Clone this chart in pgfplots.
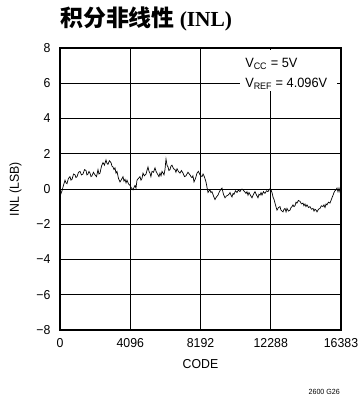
\documentclass[border=0pt]{standalone}
\usepackage{fontspec}
\setmainfont{Liberation Sans}[FakeStretch=0.95]
\newfontfamily\cjk{Noto Sans CJK SC}
\newfontfamily\titleserif{Liberation Serif}
\usepackage{pgfplots}
\pgfplotsset{compat=1.18}
\begin{document}
\begin{tikzpicture}[x=1bp,y=1bp]
\path[use as bounding box] (0,0) rectangle (363,398);
\node[anchor=base west,inner sep=0pt] at (60,372) {\fontsize{23}{25}\selectfont\cjk\bfseries 积分非线性\hspace{5bp}\fontsize{21.5}{24}\selectfont\titleserif\bfseries(INL)};
\begin{axis}[
  at={(60bp,68bp)}, anchor=south west,
  scale only axis, width=281bp, height=282bp,
  xmin=0, xmax=16383, ymin=-8, ymax=8,
  scaled x ticks=false,
  xtick={0,4096,8192,12288,16383},
  xticklabels={0,4096,8192,12288,16383},
  ytick={-8,-6,-4,-2,0,2,4,6,8},
  yticklabels={−8,−6,−4,−2,0,2,4,6,8},
  grid=major,
  major grid style={black, line width=0.8pt},
  axis line style={black, line width=1.4pt},
  tick style={draw=none},
  ticklabel style={font=\fontsize{13}{15}\selectfont},
  xticklabel style={yshift=-5bp},
  yticklabel style={xshift=-6bp},
  xlabel={CODE}, ylabel={INL (LSB)},
  label style={font=\fontsize{13}{15}\selectfont},
  xlabel style={yshift=-5bp},
  ylabel style={yshift=8bp},
  clip=false,
]
\addplot[black, line width=0.7pt] coordinates {
(0,-0.44)(58,-0.25)(117,-0.1)(200,0.2)(292,0.5)(350,0.35)(408,0.3)(490,0.6)(583,0.7)(640,0.5)(700,0.55)(790,0.85)(875,0.8)(930,0.65)(991,0.7)(1080,0.95)(1166,1.0)(1250,0.8)(1341,0.85)(1430,1.1)(1516,1.05)(1570,0.8)(1632,0.85)(1690,1.0)(1749,0.9)(1810,0.7)(1866,0.75)(1950,0.95)(2041,0.8)(2130,0.7)(2215,1.1)(2270,0.85)(2332,0.9)(2420,1.3)(2507,1.5)(2590,1.35)(2682,1.65)(2740,1.45)(2798,1.4)(2880,1.6)(2973,1.5)(3030,1.3)(3090,1.25)(3150,1.1)(3207,1.2)(3265,0.9)(3323,1.0)(3410,0.6)(3498,0.4)(3590,0.55)(3673,0.7)(3730,0.45)(3790,0.55)(3850,0.35)(3906,0.5)(3990,0.3)(4081,0.2)(4170,0.05)(4256,-0.05)(4320,0.1)(4373,0.2)(4430,0.05)(4489,0.5)(4570,0.6)(4664,0.7)(4720,0.5)(4781,0.6)(4839,0.9)(4920,0.75)(5014,0.85)(5070,1.05)(5130,1.25)(5190,1.0)(5247,0.9)(5300,0.7)(5364,1.0)(5450,0.95)(5539,1.2)(5600,1.0)(5655,0.9)(5713,0.8)(5770,0.7)(5830,0.9)(5890,0.75)(5947,1.0)(6010,0.9)(6063,0.8)(6120,1.1)(6180,1.7)(6240,1.35)(6297,1.25)(6350,1.05)(6413,1.1)(6470,1.3)(6530,1.35)(6620,1.15)(6705,1.1)(6760,0.95)(6821,1.15)(6900,1.0)(6996,0.9)(7080,1.05)(7171,0.9)(7260,0.7)(7346,0.75)(7460,0.95)(7579,0.8)(7640,0.7)(7696,0.65)(7750,0.75)(7812,0.4)(7900,0.6)(7987,0.9)(8070,1.0)(8162,0.8)(8220,0.75)(8279,0.7)(8340,0.85)(8395,0.75)(8450,0.6)(8512,0.4)(8570,0.1)(8629,-0.2)(8690,-0.1)(8745,-0.05)(8800,-0.2)(8862,-0.15)(8950,-0.4)(9037,-0.6)(9120,-0.45)(9211,-0.35)(9270,-0.2)(9328,-0.1)(9390,0.0)(9445,0.05)(9530,-0.3)(9620,-0.5)(9700,-0.4)(9794,-0.35)(9850,-0.3)(9911,-0.2)(9970,-0.35)(10028,-0.45)(10090,-0.25)(10144,-0.3)(10230,-0.1)(10319,-0.2)(10400,-0.05)(10494,-0.15)(10550,-0.05)(10611,0.0)(10669,-0.05)(10760,-0.15)(10844,-0.25)(10900,-0.15)(10961,-0.35)(11020,-0.2)(11077,-0.3)(11130,-0.4)(11194,-0.5)(11280,-0.3)(11369,-0.15)(11460,-0.35)(11544,-0.5)(11600,-0.3)(11660,-0.35)(11720,-0.2)(11777,-0.35)(11860,-0.15)(11952,-0.25)(12040,-0.1)(12127,-0.15)(12220,0.0)(12301,-0.05)(12360,-0.2)(12418,-0.45)(12480,-0.6)(12535,-0.8)(12590,-1.0)(12651,-1.2)(12740,-1.05)(12826,-1.0)(12880,-1.2)(12943,-1.25)(13001,-1.3)(13060,-1.15)(13118,-1.1)(13180,-1.3)(13234,-1.1)(13320,-1.25)(13409,-1.2)(13470,-1.05)(13526,-1.0)(13584,-0.9)(13640,-1.0)(13701,-0.95)(13760,-0.75)(13818,-0.8)(13900,-0.65)(13992,-0.7)(14080,-0.85)(14167,-0.8)(14220,-0.95)(14284,-0.85)(14340,-1.0)(14401,-0.9)(14490,-1.05)(14575,-1.0)(14660,-1.15)(14750,-1.1)(14810,-1.25)(14867,-1.15)(14930,-1.2)(14983,-1.3)(15070,-1.15)(15158,-1.1)(15240,-0.95)(15333,-1.0)(15390,-0.9)(15450,-1.05)(15510,-0.85)(15566,-0.9)(15650,-0.75)(15741,-0.8)(15800,-0.65)(15858,-0.5)(15920,-0.35)(15974,-0.2)(16030,-0.1)(16091,-0.05)(16150,0.05)(16208,-0.15)(16266,0.05)(16320,-0.15)(16383,-0.35)
};
\node[fill=white, inner sep=0pt, anchor=north east, minimum width=97bp, minimum height=41bp] at (axis cs:16150,7.9) {};
\node[anchor=base west, inner sep=0pt, font=\fontsize{13.5}{15}\selectfont] at (axis cs:10790,6.9) {V\textsubscript{CC} = 5V};
\node[anchor=base west, inner sep=0pt, font=\fontsize{13.5}{15}\selectfont] at (axis cs:10790,5.75) {V\textsubscript{REF} = 4.096V};
\end{axis}
\node[anchor=base east, inner sep=0pt, font=\fontsize{7.5}{9}\selectfont] at (340,4) {2600 G26};
\end{tikzpicture}
\end{document}
